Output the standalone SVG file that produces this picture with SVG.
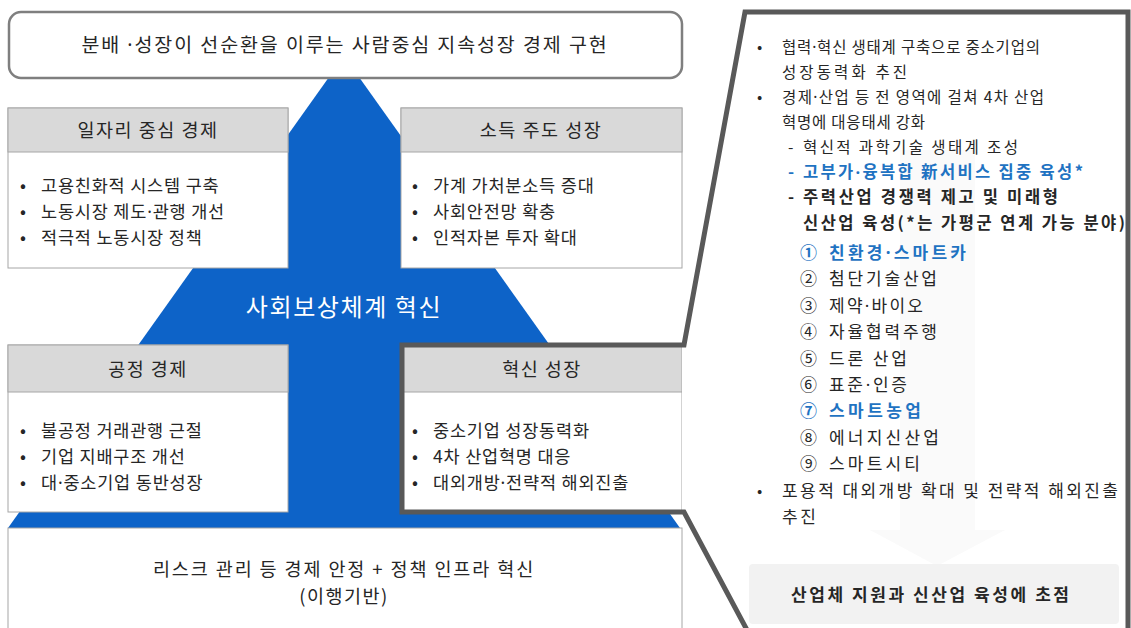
<svg xmlns="http://www.w3.org/2000/svg" width="1131" height="628" viewBox="0 0 1131 628">
<style>
text{font-family:"Noto Sans CJK KR","Noto Sans",sans-serif;fill:#262626}
.t{font-size:18.5px;text-anchor:middle;letter-spacing:1.5px}
.b{font-size:17.5px;letter-spacing:0.8px}
.r{font-size:15.5px}
.m{font-size:16.5px}
.n{font-size:17px}
.bd{font-weight:bold}
.bl{fill:#1f73c2;font-weight:bold}
.d{font-family:"Noto Sans",sans-serif}
.box{fill:#fff;stroke:#a6a6a6;stroke-width:1}
.hd{fill:#d9d9d9;stroke:#a6a6a6;stroke-width:1}
</style>
<rect width="1131" height="628" fill="#fff"/>
<polygon id="pyramid" points="344,56 680,528 8,528" fill="#0d63c8"/>
<g id="goal">
<rect x="9" y="12" width="673" height="66" rx="12" fill="#fff" stroke="#7f7f7f" stroke-width="2.5"/>
<text class="t" x="345" y="52" style="font-size:19.5px;letter-spacing:1.9px">분배 <tspan class="d">·</tspan>성장이 선순환을 이루는 사람중심 지속성장 경제 구현</text>
</g>
<g id="jobs">
<rect class="box" x="8" y="108" width="280" height="160"/>
<rect class="hd" x="8" y="108" width="280" height="44"/>
<text class="t" x="148" y="137">일자리 중심 경제</text>
<text class="b" x="20" y="192">•</text><text class="b" x="41" y="192">고용친화적 시스템 구축</text>
<text class="b" x="20" y="218">•</text><text class="b" x="41" y="218">노동시장 제도<tspan class="d">·</tspan>관행 개선</text>
<text class="b" x="20" y="244">•</text><text class="b" x="41" y="244">적극적 노동시장 정책</text>
</g>
<g id="income">
<rect class="box" x="401" y="108" width="281" height="160"/>
<rect class="hd" x="401" y="108" width="281" height="44"/>
<text class="t" x="541" y="137">소득 주도 성장</text>
<text class="b" x="412" y="192">•</text><text class="b" x="433" y="192">가계 가처분소득 증대</text>
<text class="b" x="412" y="218">•</text><text class="b" x="433" y="218">사회안전망 확충</text>
<text class="b" x="412" y="244">•</text><text class="b" x="433" y="244">인적자본 투자 확대</text>
</g>
<text id="social" x="344" y="316" style="font-size:24px;fill:#fff;text-anchor:middle;letter-spacing:1.6px">사회보상체계 혁신</text>
<g id="fair">
<rect class="box" x="8" y="345" width="280" height="167"/>
<rect class="hd" x="8" y="345" width="280" height="47"/>
<text class="t" x="148" y="376">공정 경제</text>
<text class="b" x="20" y="437">•</text><text class="b" x="41" y="437">불공정 거래관행 근절</text>
<text class="b" x="20" y="463">•</text><text class="b" x="41" y="463">기업 지배구조 개선</text>
<text class="b" x="20" y="489">•</text><text class="b" x="41" y="489">대<tspan class="d">·</tspan>중소기업 동반성장</text>
</g>
<g id="innovation">
<rect class="box" x="402" y="345" width="280" height="167"/>
<rect class="hd" x="402" y="345" width="280" height="47"/>
<text class="t" x="542" y="376">혁신 성장</text>
<text class="b" x="412" y="437">•</text><text class="b" x="433" y="437">중소기업 성장동력화</text>
<text class="b" x="412" y="463">•</text><text class="b" x="433" y="463">4차 산업혁명 대응</text>
<text class="b" x="412" y="489">•</text><text class="b" x="433" y="489">대외개방<tspan class="d">·</tspan>전략적 해외진출</text>
</g>
<g id="base">
<rect class="box" x="8" y="528" width="674" height="110"/>
<text class="t" x="344" y="576" style="font-size:18.5px;letter-spacing:1.9px">리스크 관리 등 경제 안정 + 정책 인프라 혁신</text>
<text class="t" x="344" y="603" style="font-size:18.5px;letter-spacing:1.5px">(이행기반)</text>
</g>
<g id="callout">
<polygon points="745,12 1128,12 1128,628 747,628 684,512 682,512 682,345 684,345" fill="#fff"/>
<polygon points="900,150 975,150 975,530 1005,530 937,566 870,530 900,530" fill="#fafafa"/>
<path d="M747,630 L684,512 L402,512 L402,345 L684,345 L745,12 L1128,12 L1128,630" fill="none" stroke="#595959" stroke-width="5" stroke-linejoin="miter"/>
<text class="r" x="757" y="53">•</text><text class="r" x="782" y="53" textLength="258" lengthAdjust="spacing">협력<tspan class="d">·</tspan>혁신 생태계 구축으로 중소기업의</text>
<text class="r" x="782" y="78" textLength="125" lengthAdjust="spacing">성장동력화 추진</text>
<text class="r" x="757" y="103">•</text><text class="r" x="782" y="103" textLength="262" lengthAdjust="spacing">경제<tspan class="d">·</tspan>산업 등 전 영역에 걸쳐 4차 산업</text>
<text class="r" x="782" y="128" textLength="143" lengthAdjust="spacing">혁명에 대응태세 강화</text>
<text class="r" x="788" y="153">-</text><text class="r" x="803" y="153" textLength="215" lengthAdjust="spacing">혁신적 과학기술 생태계 조성</text>
<text class="m bl" x="788" y="178">-</text><text class="m bl" x="803" y="178" textLength="280" lengthAdjust="spacing">고부가<tspan class="d">·</tspan>융복합 新서비스 집중 육성*</text>
<text class="m bd" x="788" y="203">-</text><text class="m bd" x="803" y="203" textLength="255" lengthAdjust="spacing">주력산업 경쟁력 제고 및 미래형</text>
<text class="m bd" x="803" y="229" textLength="322" lengthAdjust="spacing">신산업 육성(*는 가평군 연계 가능 분야)</text>
<text class="n bl" x="800" y="259">①</text><text class="n bl" x="829" y="259" textLength="137" lengthAdjust="spacing">친환경<tspan class="d">·</tspan>스마트카</text>
<text class="n" x="800" y="285.4">②</text><text class="n" x="829" y="285.4" textLength="108" lengthAdjust="spacing">첨단기술산업</text>
<text class="n" x="800" y="311.8">③</text><text class="n" x="829" y="311.8" textLength="94" lengthAdjust="spacing">제약<tspan class="d">·</tspan>바이오</text>
<text class="n" x="800" y="338.2">④</text><text class="n" x="829" y="338.2" textLength="108" lengthAdjust="spacing">자율협력주행</text>
<text class="n" x="800" y="364.6">⑤</text><text class="n" x="829" y="364.6" textLength="78" lengthAdjust="spacing">드론 산업</text>
<text class="n" x="800" y="391">⑥</text><text class="n" x="829" y="391" textLength="78" lengthAdjust="spacing">표준<tspan class="d">·</tspan>인증</text>
<text class="n bl" x="800" y="417.4">⑦</text><text class="n bl" x="829" y="417.4" textLength="92" lengthAdjust="spacing">스마트농업</text>
<text class="n" x="800" y="443.8">⑧</text><text class="n" x="829" y="443.8" textLength="110" lengthAdjust="spacing">에너지신산업</text>
<text class="n" x="800" y="470.2">⑨</text><text class="n" x="829" y="470.2" textLength="91" lengthAdjust="spacing">스마트시티</text>
<text class="r" x="757" y="496.6">•</text><text class="n" x="782" y="496.6" textLength="336" lengthAdjust="spacing">포용적 대외개방 확대 및 전략적 해외진출</text>
<text class="n" x="782" y="523" textLength="34" lengthAdjust="spacing">추진</text>
</g>
<g id="focus">
<rect x="749" y="564" width="370" height="60" rx="4" fill="#f2f2f2"/>
<text class="n bd" x="791" y="601" textLength="278" lengthAdjust="spacing">산업체 지원과 신산업 육성에 초점</text>
</g>
</svg>
